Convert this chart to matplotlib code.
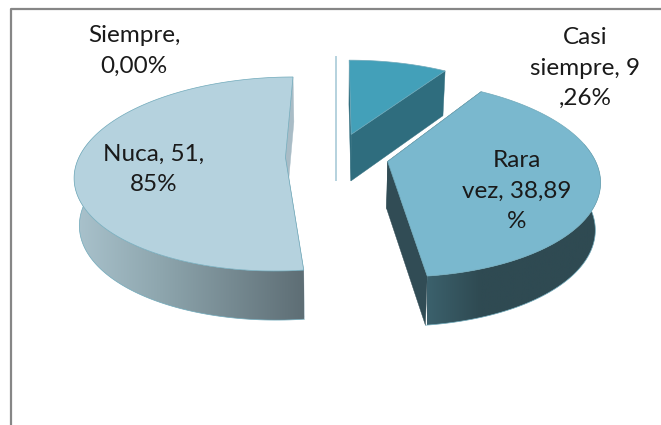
import numpy as np
import matplotlib
matplotlib.use("Agg")
import matplotlib.pyplot as plt
from matplotlib.patches import Polygon
from matplotlib.colors import to_rgb

# Datos del grafico
categorias = ["Siempre", "Casi siempre", "Rara vez", "Nuca"]
valores = [0.00, 9.26, 38.89, 51.85]
etiquetas = ["Siempre,\n0,00%", "Casi\nsiempre, 9\n,26%", "Rara\nvez, 38,89\n%", "Nuca, 51,\n85%"]

# Estilos
color_tapa = {"Siempre": "#b5d2de", "Casi siempre": "#43a0b9", "Rara vez": "#7ab8ce", "Nuca": "#b5d2de"}
color_cara = {"Siempre": "#b5d2de", "Casi siempre": "#2f6d7e", "Rara vez": "#314c55", "Nuca": "#a9bcc6"}
# gradiente del borde curvo: (x en pixeles, color)
gradiente = {
    "Casi siempre": [(350, "#2f6d7e"), (450, "#2f6d7e")],
    "Rara vez": [(420, "#3d6470"), (480, "#2f4a52"), (600, "#2f4a52")],
    "Nuca": [(76, "#a9c2cc"), (160, "#8ea6ae"), (303, "#5e6e75")],
}
pos_etiquetas = {"Siempre": (134, 51), "Casi siempre": (585, 68), "Rara vez": (517, 191), "Nuca": (154, 169)}

# Parametros de la proyeccion en perspectiva (en pixeles)
XC, YC = 337, 156
A, B, K = 206, 93.7, 0.171
EXPLOSION = 0.25
ESCALA_BASE = 0.98  # el plano inferior queda un poco mas estrecho


def proyectar(u, v):
    w = 1 + K * v
    return XC + A * u / w, YC - B * v / w, w


def altura(w):
    return 47 - 12 * (w - 1)


def base_x(x):
    return XC + (x - XC) * ESCALA_BASE


def mezcla(x, stops):
    xs = [s[0] for s in stops]
    rgb = np.array([to_rgb(s[1]) for s in stops])
    return np.stack([np.interp(x, xs, rgb[:, i]) for i in range(3)], axis=-1)


fig = plt.figure(figsize=(6.61, 4.25), dpi=100)
ax = fig.add_axes([0, 0, 1, 1])
ax.axis("off")

# Marco del grafico
ax.plot([10.5, 10.5, 670], [430, 8.5, 8.5], color="#868686", lw=1.6, zorder=1)

# Angulos de cada porcion (sentido horario desde arriba)
fin = np.cumsum(valores) / np.sum(valores) * 2 * np.pi
inicio = np.concatenate([[0], fin[:-1]])
z = 2
for i in [1, 0, 2, 3]:
    nombre = categorias[i]
    t0, t1 = inicio[i], fin[i]
    medio = (t0 + t1) / 2
    du, dv = EXPLOSION * np.sin(medio), EXPLOSION * np.cos(medio)
    tip_x, tip_y, tip_w = proyectar(du, dv)

    if valores[i] == 0:
        top_x, top_y, top_w = proyectar(du, dv + 1)
        ax.plot([top_x - 1, top_x - 1], [top_y - 3, tip_y + altura(tip_w)],
                color=color_tapa[nombre], lw=1.4, zorder=z)
        z += 1
        continue

    t = np.linspace(t0, t1, 160)
    ax_x, ax_y, ax_w = proyectar(du + np.sin(t), dv + np.cos(t))
    base_y = ax_y + altura(ax_w)

    # Caras rectas
    for j in [0, -1]:
        cara = [(tip_x, tip_y), (ax_x[j], ax_y[j]), (base_x(ax_x[j]), base_y[j]),
                (base_x(tip_x), tip_y + altura(tip_w))]
        ax.fill(*zip(*cara), color=color_cara[nombre], lw=0.3, zorder=z)

    # Borde curvo con degradado, solo la parte que mira al frente
    frente = np.cos(t) < 0.2
    if frente.any():
        xs, ys, bs = ax_x[frente], ax_y[frente], base_y[frente]
        bx = base_x(xs)
        contorno = np.column_stack([np.concatenate([xs, bx[::-1]]), np.concatenate([ys, bs[::-1]])])
        parche = Polygon(contorno, closed=True, transform=ax.transData, facecolor="none", edgecolor="none")
        ax.add_patch(parche)
        columnas = np.linspace(xs.min(), xs.max(), 256)
        img = mezcla(columnas, gradiente[nombre])[np.newaxis, :, :]
        im = ax.imshow(img, extent=[xs.min(), xs.max(), bs.max(), ys.min()], aspect="auto", zorder=z)
        im.set_clip_path(parche)
        ax.plot(bx, bs, color="#6fa9ba", lw=0.5, zorder=z)

    # Tapa
    tapa_x = np.concatenate([[tip_x], ax_x])
    tapa_y = np.concatenate([[tip_y], ax_y])
    ax.fill(tapa_x, tapa_y, facecolor=color_tapa[nombre], edgecolor="#6fa9ba", lw=0.5, zorder=z + 1)
    z += 2

# Etiquetas
for nombre, texto in zip(categorias, etiquetas):
    x, y = pos_etiquetas[nombre]
    ax.text(x, y, texto, ha="center", va="center", family="Lato", fontsize=17.5,
            linespacing=1.54, color="#1a1a1a", zorder=20)

ax.set_xlim(0, 661)
ax.set_ylim(425, 0)
fig.savefig("out.png", dpi=100)
